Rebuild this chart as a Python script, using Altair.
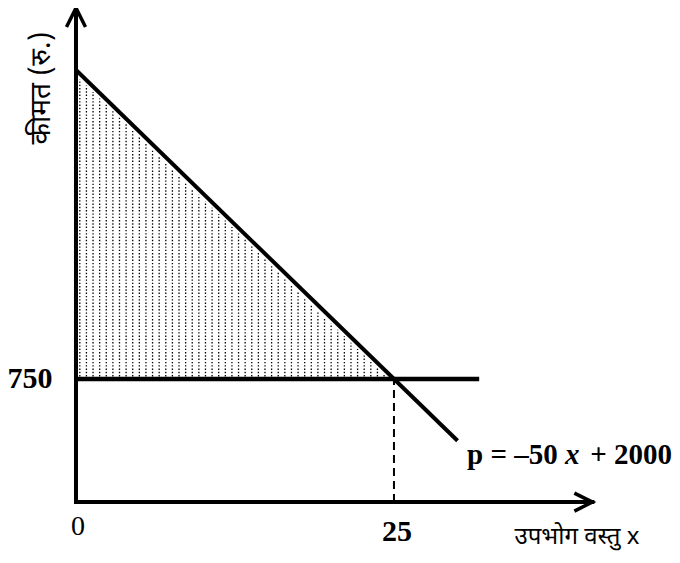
import altair as alt
import pandas as pd
import numpy as np

# ---- data ----
demand_x = [0, 30]          # consumption (units)
demand_p = [2000, 500]      # p = -50x + 2000
price_level = 750
price_line_x = [0, 31.7]
eq_x = 25
x_axis_end = 40.6
y_axis_end = 2251
axis_base = 252             # value at which the (broken) horizontal axis sits

# ---- layout ----
W, H = 664, 547
x_dom = [-5.346, 46.86]
y_dom = [38.0, 2250.8]
xs = alt.Scale(domain=x_dom, nice=False, zero=False)
ys = alt.Scale(domain=y_dom, nice=False, zero=False)
SERIF = "Liberation Serif"
DEVA = "Noto Sans Devanagari, Noto Sans, sans-serif"


def X(f="x"):
    return alt.X(f"{f}:Q", scale=xs, axis=None)


def Y(f="y"):
    return alt.Y(f"{f}:Q", scale=ys, axis=None)


# consumer-surplus texture: dotted vertical columns under the demand line
slope = (demand_p[1] - demand_p[0]) / (demand_x[1] - demand_x[0])
cols = np.arange(0.3, eq_x, 0.52)
tops = demand_p[0] + slope * cols - 22
tex = pd.DataFrame({"x": cols, "y": price_level + 10, "y2": tops})
tex = tex[tex.y2 > tex.y]
texture = alt.Chart(tex).mark_rule(
    color="black", strokeWidth=1.3, strokeDash=[1.4, 1.9]
).encode(x=X(), y=Y(), y2="y2:Q")

demand = alt.Chart(pd.DataFrame({"x": demand_x, "y": demand_p})).mark_line(
    color="black", strokeWidth=4
).encode(x=X(), y=Y())

price = alt.Chart(pd.DataFrame({"x": [price_line_x[0]], "x2": [price_line_x[1]],
                                "y": [price_level]})).mark_rule(
    color="black", strokeWidth=4.5
).encode(x=X(), x2="x2:Q", y=Y())

dashed = alt.Chart(pd.DataFrame({"x": [eq_x], "y": [axis_base], "y2": [price_level]})).mark_rule(
    color="black", strokeWidth=2, strokeDash=[8, 5]
).encode(x=X(), y=Y(), y2="y2:Q")

axes = alt.Chart(pd.DataFrame({
    "x": [0, 0], "x2": [0, x_axis_end],
    "y": [axis_base, axis_base], "y2": [y_axis_end, axis_base]})).mark_rule(
    color="black", strokeWidth=4, strokeCap="square"
).encode(x=X(), x2="x2:Q", y=Y(), y2="y2:Q")

arrow_x = alt.Chart(pd.DataFrame({"x": [x_axis_end], "y": [axis_base]})).mark_point(
    shape="M-1,-0.5L0,0L-1,0.5", size=1296, filled=False, strokeWidth=3.5,
    color="black", opacity=1, strokeJoin="miter"
).encode(x=X(), y=Y())

arrow_y = alt.Chart(pd.DataFrame({"x": [0], "y": [y_axis_end]})).mark_point(
    shape="M-0.5,1L0,0L0.5,1", size=1444, filled=False, strokeWidth=3.5,
    color="black", opacity=1, strokeJoin="miter"
).encode(x=X(), y=Y())

base = alt.Chart(pd.DataFrame({"a": [0]}))

lab750 = base.mark_text(font=SERIF, fontSize=30, fontWeight="bold", baseline="middle",
                        align="center").encode(
    x=alt.value(22), y=alt.Y("v:Q", scale=ys, axis=None), text=alt.value(str(price_level))
).transform_calculate(v=str(price_level))

lab25 = base.mark_text(font=SERIF, fontSize=30, fontWeight="bold", baseline="middle",
                       align="center", dx=3).encode(
    x=alt.X("v:Q", scale=xs, axis=None), y=alt.value(524), text=alt.value(str(eq_x))
).transform_calculate(v=str(eq_x))

lab0 = base.mark_text(font=SERIF, fontSize=28, baseline="middle", align="center", dx=2).encode(
    x=alt.X("v:Q", scale=xs, axis=None), y=alt.value(519), text=alt.value("0")
).transform_calculate(v="0")

EQ_Y = 447
eq1 = base.mark_text(font=SERIF, fontSize=29, fontWeight="bold", baseline="middle",
                     align="left").encode(x=alt.value(459), y=alt.value(EQ_Y),
                                          text=alt.value("p = –50"))
eq2 = base.mark_text(font=SERIF, fontSize=29, fontWeight="bold", fontStyle="italic",
                     baseline="middle", align="left").encode(x=alt.value(557), y=alt.value(EQ_Y),
                                                             text=alt.value("x"))
eq3 = base.mark_text(font=SERIF, fontSize=29, fontWeight="bold", baseline="middle",
                     align="right").encode(x=alt.value(664), y=alt.value(EQ_Y),
                                           text=alt.value("+ 2000"))

xlab = base.mark_text(font=DEVA, fontSize=24, baseline="middle", align="center").encode(
    x=alt.value(569), y=alt.value(529), text=alt.value("उपभोग  वस्तु  x"))

ylab = base.mark_text(font=DEVA, fontSize=28, baseline="middle", align="center",
                      angle=270).encode(
    x=alt.value(34), y=alt.value(80), text=alt.value("कीमत (रु.)"))

chart = alt.layer(
    texture, axes, dashed, price, demand, arrow_x, arrow_y,
    lab750, lab25, lab0, eq1, eq2, eq3, xlab, ylab
).properties(
    width=W, height=H, padding=0,
    autosize=alt.AutoSizeParams(type="none")
).configure_view(stroke=None)

chart.save("out.html", embed_options={"renderer": "svg", "actions": False})
